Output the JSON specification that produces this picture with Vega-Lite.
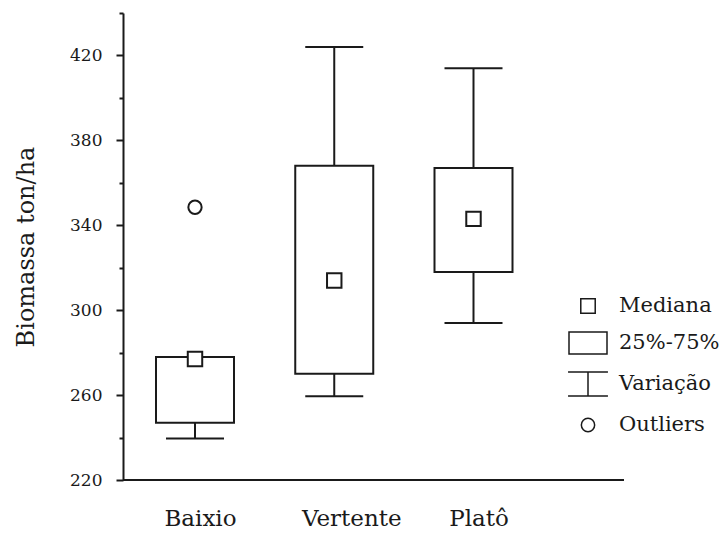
{
  "$schema": "https://vega.github.io/schema/vega-lite/v6.json",
  "width": 501,
  "height": 467,
  "autosize": {"type": "none"},
  "padding": {"left": 123, "top": 13, "right": 97, "bottom": 56},
  "background": "white",
  "config": {
    "view": {"stroke": null},
    "font": "DejaVu Serif",
    "axisY": {
      "domainColor": "#1a1a1a",
      "domainWidth": 2,
      "tickColor": "#1a1a1a",
      "tickWidth": 2,
      "labelFont": "DejaVu Serif",
      "labelFontSize": 17,
      "labelColor": "#1a1a1a",
      "labelPadding": 14,
      "titleFont": "DejaVu Serif",
      "titleFontSize": 24,
      "titleFontWeight": "normal",
      "titleColor": "#1a1a1a",
      "titlePadding": 31,
      "grid": false
    },
    "axisX": {
      "domain": false,
      "ticks": false,
      "tickSize": 0,
      "labelFont": "DejaVu Serif",
      "labelFontSize": 23,
      "labelColor": "#1a1a1a",
      "labelPadding": 27,
      "labelAngle": 0,
      "grid": false
    }
  },
  "datasets": {
    "caixas": [
      {"local": "Baixio", "tipo": "Mediana", "minimo": 239.5, "q1": 247, "mediana": 277, "q3": 278, "maximo": null},
      {"local": "Vertente", "tipo": "Mediana", "minimo": 259.5, "q1": 270, "mediana": 314, "q3": 368, "maximo": 424},
      {"local": "Platô", "tipo": "Mediana", "minimo": 294, "q1": 318, "mediana": 343, "q3": 367, "maximo": 414}
    ],
    "outliers": [
      {"local": "Baixio", "tipo": "Outliers", "valor": 348.5}
    ]
  },
  "layer": [
    {
      "data": {"values": [{}]},
      "mark": {"type": "rule", "color": "#1a1a1a", "strokeWidth": 2},
      "encoding": {
        "y": {"datum": 220, "type": "quantitative", "scale": {"domain": [220, 440], "nice": false, "zero": false}, "title": "Biomassa ton/ha"}
      }
    },
    {
      "encoding": {
        "x": {
          "field": "local",
          "type": "nominal",
          "sort": ["Baixio", "Vertente", "Platô"],
          "scale": {"type": "point", "domain": ["Baixio", "Vertente", "Platô"], "range": [72, 350.5], "padding": 0},
          "axis": {
            "title": null,
            "labelOffset": {"condition": {"test": "datum.value == 'Vertente'", "value": 17}, "value": 5}
          }
        }
      },
      "layer": [
        {
          "data": {"name": "caixas"},
          "mark": {"type": "rule", "color": "#1a1a1a", "strokeWidth": 2},
          "encoding": {
            "y": {
              "field": "minimo",
              "type": "quantitative",
              "scale": {"domain": [220, 440], "nice": false, "zero": false},
              "title": "Biomassa ton/ha",
              "axis": {
                "values": [220, 240, 260, 280, 300, 320, 340, 360, 380, 400, 420, 440],
                "labelExpr": "datum.value % 40 == 0 ? '' : datum.label",
                "tickSize": {"condition": {"test": "datum.value % 40 == 0", "value": 4}, "value": 7}
              }
            },
            "y2": {"field": "q1"}
          }
        },
        {
          "data": {"name": "caixas"},
          "mark": {"type": "rule", "color": "#1a1a1a", "strokeWidth": 2},
          "encoding": {
            "y": {"field": "q3", "type": "quantitative", "scale": {"domain": [220, 440], "nice": false, "zero": false}, "title": "Biomassa ton/ha"},
            "y2": {"field": "maximo"}
          }
        },
        {
          "data": {"name": "caixas"},
          "mark": {"type": "tick", "orient": "horizontal", "size": 58, "thickness": 2, "color": "#1a1a1a", "opacity": 1},
          "encoding": {
            "y": {"field": "minimo", "type": "quantitative", "scale": {"domain": [220, 440], "nice": false, "zero": false}, "title": "Biomassa ton/ha"}
          }
        },
        {
          "data": {"name": "caixas"},
          "mark": {"type": "tick", "orient": "horizontal", "size": 58, "thickness": 2, "color": "#1a1a1a", "opacity": 1},
          "encoding": {
            "y": {"field": "maximo", "type": "quantitative", "scale": {"domain": [220, 440], "nice": false, "zero": false}, "title": "Biomassa ton/ha"}
          }
        },
        {
          "data": {"name": "caixas"},
          "mark": {"type": "bar", "width": 78, "fill": "white", "stroke": "#1a1a1a", "strokeWidth": 2},
          "encoding": {
            "y": {"field": "q1", "type": "quantitative", "scale": {"domain": [220, 440], "nice": false, "zero": false}, "title": "Biomassa ton/ha"},
            "y2": {"field": "q3"}
          }
        },
        {
          "data": {"name": "caixas"},
          "mark": {"type": "point", "filled": true, "fill": "white", "stroke": "#1a1a1a", "strokeWidth": 2, "size": 1444, "opacity": 1},
          "encoding": {
            "y": {"field": "mediana", "type": "quantitative", "scale": {"domain": [220, 440], "nice": false, "zero": false}, "title": "Biomassa ton/ha"},
            "shape": {
              "field": "tipo",
              "type": "nominal",
              "scale": {
                "domain": ["Mediana", "25%-75%", "Variação", "Outliers"],
                "range": [
                  "M-0.38,-0.38H0.38V0.38H-0.38Z",
                  "M-1,-0.58H1V0.58H-1Z",
                  "M-1.05,-0.63H1.05M0,-0.63V0.63M-1.05,0.63H1.05",
                  "M0.35,0A0.35,0.35,0,1,1,-0.35,0A0.35,0.35,0,1,1,0.35,0Z"
                ]
              },
              "legend": {
                "title": null,
                "orient": "none",
                "legendX": 445,
                "legendY": 273,
                "rowPadding": 6,
                "symbolSize": 1444,
                "labelFont": "DejaVu Serif",
                "labelFontSize": 21,
                "labelColor": "#1a1a1a",
                "labelOffset": 11,
                "labelLimit": 200,
                "encode": {
                  "labels": {
                    "fontStyle": {"value": {"expr": "datum.label == 'Outliers' ? 'italic' : 'normal'"}}
                  }
                }
              }
            }
          }
        },
        {
          "data": {"name": "outliers"},
          "mark": {"type": "point", "filled": true, "fill": "white", "stroke": "#1a1a1a", "strokeWidth": 2, "size": 1444, "opacity": 1},
          "encoding": {
            "y": {"field": "valor", "type": "quantitative", "scale": {"domain": [220, 440], "nice": false, "zero": false}, "title": "Biomassa ton/ha"},
            "shape": {"field": "tipo", "type": "nominal"}
          }
        }
      ]
    }
  ]
}
